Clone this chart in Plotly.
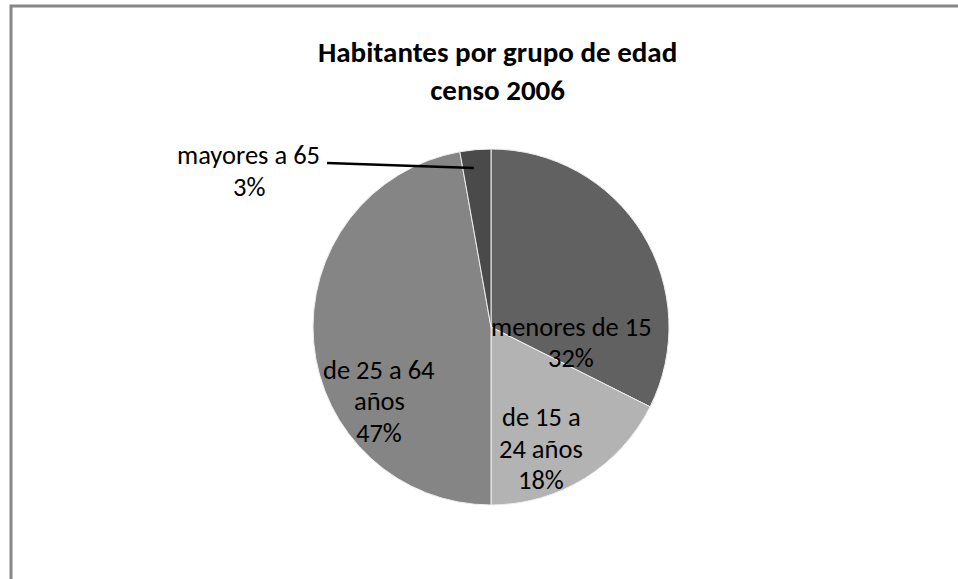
import plotly.graph_objects as go

# ---- data ----
labels = ["menores de 15", "de 15 a 24 años", "de 25 a 64 años", "mayores a 65"]
label_lines = [["menores de 15"], ["de 15 a", "24 años"], ["de 25 a 64", "años"], ["mayores a 65"]]
values = [32.4, 17.6, 47.2, 2.8]
colors = ["#616161", "#b3b3b3", "#858585", "#4a4a4a"]
title_lines = ["Habitantes por grupo de edad", "censo 2006"]

# ---- layout geometry (pixels) ----
W, H = 958, 579
cx, cy, R = 491, 327, 178
FONT = "Carlito, Lato, 'Open Sans', sans-serif"
LABEL_SIZE = 26.5
LABEL_SPACING = 31.5
TITLE_SIZE = 29
title_center = (498, 71)

# label-block centres relative to pie centre, in units of radius (dy positive = down)
label_offsets = [(0.452, 0.087), (0.281, 0.685), (-0.629, 0.416), (-1.360, -0.876)]

fig = go.Figure()
fig.add_trace(go.Pie(
    labels=labels, values=values, sort=False, direction="clockwise", rotation=0,
    marker=dict(colors=colors, line=dict(color="#eeeeee", width=1)),
    textinfo="none", hoverinfo="label+percent", showlegend=False,
    domain=dict(x=[(cx - R) / W, (cx + R) / W], y=[(H - cy - R) / H, (H - cy + R) / H]),
))

total = sum(values)
annotations = []
for lines, v, (fx, fy) in zip(label_lines, values, label_offsets):
    pct = round(v / total * 100)
    all_lines = lines + [f"{pct}%"]
    n = len(all_lines)
    bx, by = cx + fx * R, cy + fy * R
    for i, line in enumerate(all_lines):
        ly = by + (i - (n - 1) / 2) * LABEL_SPACING
        annotations.append(dict(
            text=line, x=bx / W, y=1 - ly / H, xref="paper", yref="paper",
            showarrow=False, xanchor="center", yanchor="middle", align="center",
            font=dict(family=FONT, size=LABEL_SIZE, color="#000000"),
        ))

annotations.append(dict(
    text="<br>".join(f"<b>{t}</b>" for t in title_lines),
    x=title_center[0] / W, y=1 - title_center[1] / H, xref="paper", yref="paper",
    showarrow=False, xanchor="center", yanchor="middle", align="center",
    font=dict(family=FONT, size=TITLE_SIZE, color="#000000"),
))

shapes = [
    # chart-area border
    dict(type="rect", xref="paper", yref="paper", x0=11 / W, y0=-0.05, x1=1.05, y1=1 - 6 / H,
         line=dict(color="#878787", width=3), fillcolor="rgba(0,0,0,0)", layer="below"),
    # leader line for the small slice
    dict(type="line", xref="paper", yref="paper",
         x0=(cx - 0.921 * R) / W, y0=1 - (cy - 0.921 * R) / H,
         x1=(cx - 0.096 * R) / W, y1=1 - (cy - 0.893 * R) / H,
         line=dict(color="#000000", width=2.5)),
]

fig.update_layout(
    width=W, height=H, margin=dict(l=0, r=0, t=0, b=0),
    paper_bgcolor="#ffffff", plot_bgcolor="#ffffff",
    annotations=annotations, shapes=shapes,
)
fig.write_html("out.html", config={"displayModeBar": False},
               post_script="document.body.style.margin='0';document.body.style.overflow='hidden';")
